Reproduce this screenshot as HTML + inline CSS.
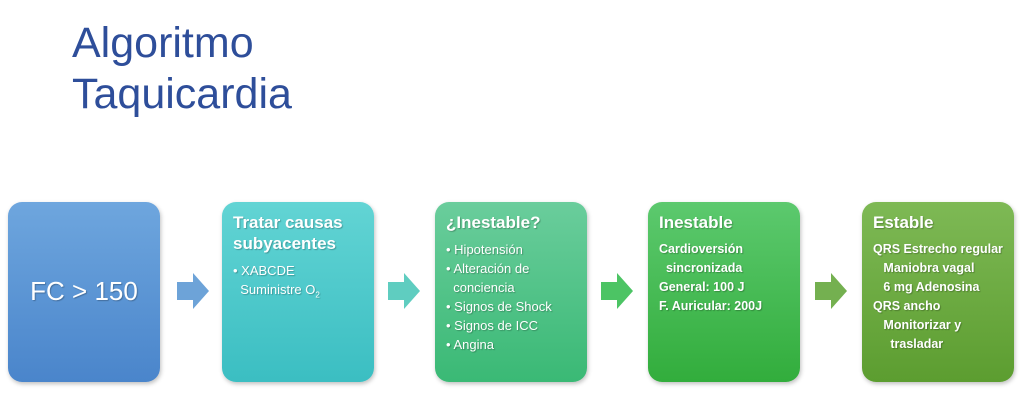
<!DOCTYPE html>
<html><head><meta charset="utf-8"><style>
body{margin:0;width:1022px;height:420px;background:#fff;position:relative;overflow:hidden;font-family:"Liberation Sans",sans-serif}
.t{position:absolute;left:72px;top:18px;font-size:43px;line-height:51px;color:#2e4e9a}
.b{position:absolute;top:202px;width:152px;height:180px;border-radius:14px;color:#fff;box-shadow:1px 2px 4px rgba(0,0,0,.25);box-sizing:border-box;padding:10px 11px;text-shadow:1px 1px 1px rgba(0,0,0,.25)}
.h{font-size:17px;font-weight:bold;line-height:21px;margin-bottom:7px}
.p{font-size:13px;line-height:19px}
.s{font-size:12.5px;line-height:19px;font-weight:bold}
.a{position:absolute;top:273px;width:32px;height:36px}
</style></head><body>
<div class="t">Algoritmo<br>Taquicardia</div>
<div class="b" style="left:8px;background:linear-gradient(#6ea6de,#4a85cb)"><div style="position:absolute;left:0;right:0;top:74px;text-align:center;font-size:26px">FC &gt; 150</div></div>
<div class="b" style="left:222px;background:linear-gradient(#62d4d4,#3bbec2)"><div class="h">Tratar causas subyacentes</div><div class="p">• XABCDE<br>&nbsp;&nbsp;Suministre O<sub style="font-size:8px">2</sub></div></div>
<div class="b" style="left:435px;background:linear-gradient(#6acd9c,#3ab975)"><div class="h">¿Inestable?</div><div class="p">• Hipotensión<br>• Alteración de<br>&nbsp;&nbsp;conciencia<br>• Signos de Shock<br>• Signos de ICC<br>• Angina</div></div>
<div class="b" style="left:648px;background:linear-gradient(#5cc96e,#32ad3c)"><div class="h">Inestable</div><div class="s">Cardioversión<br>&nbsp;&nbsp;sincronizada<br>General: 100 J<br>F. Auricular: 200J</div></div>
<div class="b" style="left:862px;background:linear-gradient(#7eb955,#5c9d30)"><div class="h">Estable</div><div class="s">QRS Estrecho regular<br>&nbsp;&nbsp;&nbsp;Maniobra vagal<br>&nbsp;&nbsp;&nbsp;6 mg Adenosina<br>QRS ancho<br>&nbsp;&nbsp;&nbsp;Monitorizar y<br>&nbsp;&nbsp;&nbsp;&nbsp;&nbsp;trasladar</div></div>
<svg class="a" style="left:177px" viewBox="0 0 32 36"><polygon points="0,9 16,9 16,0 32,18 16,36 16,27 0,27" fill="#6da3d8"/></svg>
<svg class="a" style="left:388px" viewBox="0 0 32 36"><polygon points="0,9 16,9 16,0 32,18 16,36 16,27 0,27" fill="#5fcdc0"/></svg>
<svg class="a" style="left:601px" viewBox="0 0 32 36"><polygon points="0,9 16,9 16,0 32,18 16,36 16,27 0,27" fill="#4cc464"/></svg>
<svg class="a" style="left:815px" viewBox="0 0 32 36"><polygon points="0,9 16,9 16,0 32,18 16,36 16,27 0,27" fill="#74b050"/></svg>
</body></html>
